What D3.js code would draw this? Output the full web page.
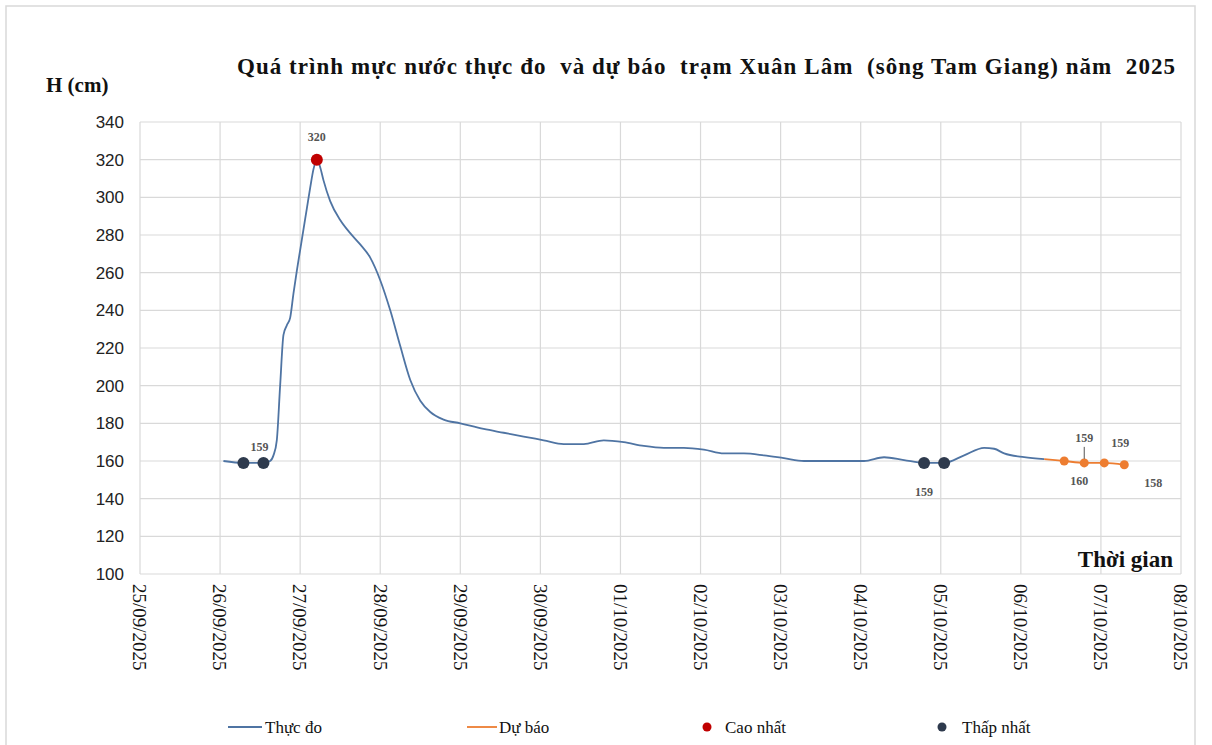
<!DOCTYPE html>
<html>
<head>
<meta charset="utf-8">
<script src="https://cdn.jsdelivr.net/npm/d3@7"></script>
<style>
  body { margin: 0; background: #fff; }
  text { font-family: "Liberation Serif", "Times New Roman", serif; }
</style>
</head>
<body>
<div id="chart"></div>
<script>
// observed water level (Thực đo)
const obsTimes = [
  "2025-09-26T01:00", "2025-09-26T07:00", "2025-09-26T13:00", "2025-09-26T15:00", "2025-09-26T16:00",
  "2025-09-26T17:00", "2025-09-26T18:00", "2025-09-26T19:00", "2025-09-26T20:00", "2025-09-26T21:00",
  "2025-09-26T22:00", "2025-09-26T23:00", "2025-09-27T00:00", "2025-09-27T01:00", "2025-09-27T02:00",
  "2025-09-27T03:00", "2025-09-27T04:00", "2025-09-27T05:00", "2025-09-27T06:00", "2025-09-27T07:00",
  "2025-09-27T09:00", "2025-09-27T12:00", "2025-09-27T15:00", "2025-09-27T18:00", "2025-09-27T21:00",
  "2025-09-28T00:00", "2025-09-28T03:00", "2025-09-28T06:00", "2025-09-28T09:00", "2025-09-28T12:00",
  "2025-09-28T15:00", "2025-09-28T19:00", "2025-09-29T00:00", "2025-09-29T07:00", "2025-09-29T13:00",
  "2025-09-29T19:00", "2025-09-30T01:00", "2025-09-30T07:00", "2025-09-30T13:00", "2025-09-30T19:00",
  "2025-10-01T01:00", "2025-10-01T07:00", "2025-10-01T13:00", "2025-10-01T19:00", "2025-10-02T01:00",
  "2025-10-02T07:00", "2025-10-02T13:00", "2025-10-02T19:00", "2025-10-03T01:00", "2025-10-03T07:00",
  "2025-10-03T13:00", "2025-10-03T19:00", "2025-10-04T01:00", "2025-10-04T07:00", "2025-10-04T13:00",
  "2025-10-04T19:00", "2025-10-05T01:00", "2025-10-05T07:00", "2025-10-05T13:00", "2025-10-05T16:00",
  "2025-10-05T19:00", "2025-10-06T01:00", "2025-10-06T07:00"
];
const obsValues = [
  160, 159, 159, 160, 163,
  171, 200, 227, 232, 236,
  249, 261, 272, 283, 294,
  305, 315, 320, 316, 309,
  298, 288, 281, 275, 268,
  256, 240, 221, 203, 192,
  186, 182, 180, 177, 175,
  173, 171, 169, 169, 171,
  170, 168, 167, 167, 166,
  164, 164, 163, 161.5, 160,
  160, 160, 160, 162, 160.5,
  159, 159, 163, 167, 166.5,
  164, 162, 161
];

// forecast (Dự báo)
const fcTimes = ["2025-10-06T07:00", "2025-10-06T13:00", "2025-10-06T19:00", "2025-10-07T01:00", "2025-10-07T07:00"];
const fcValues = [161, 160, 159, 159, 158];
const fcLabels = ["", "160", "159", "159", "158"];

// highest / lowest markers
const maxTimes = ["2025-09-27T05:00"];
const maxValues = [320];
const minTimes = ["2025-09-26T07:00", "2025-09-26T13:00", "2025-10-04T19:00", "2025-10-05T01:00"];
const minValues = [159, 159, 159, 159];
const minLabels = ["", "159", "159", ""];

const yTicks = [100, 120, 140, 160, 180, 200, 220, 240, 260, 280, 300, 320, 340];
const xStart = "2025-09-25T00:00", xEnd = "2025-10-08T00:00";

const titleText = "Quá trình mực nước thực đo  và dự báo  trạm Xuân Lâm  (sông Tam Giang) năm  2025";
const legendItems = ["Thực đo", "Dự báo", "Cao nhất", "Thấp nhất"];

function init() {
    let w = 1212;
    let h = 745;
    let left = 140, right = 1181, top = 122, bottom = 574;
    const serif = "'Liberation Serif', 'Times New Roman', serif";

    const parse = d3.timeParse("%Y-%m-%dT%H:%M");
    const fmt = d3.timeFormat("%d/%m/%Y");

    let svg = d3.select("#chart")
        .append("svg")
        .attr("width", w)
        .attr("height", h);

    // outer frame
    svg.append("rect")
        .attr("x", 6).attr("y", 6)
        .attr("width", 1189).attr("height", 745)
        .attr("fill", "none")
        .attr("stroke", "#d9d9d9")
        .attr("stroke-width", 1.5);

    let x = d3.scaleTime()
        .domain([parse(xStart), parse(xEnd)])
        .range([left, right]);
    let y = d3.scaleLinear()
        .domain([100, 340])
        .range([bottom, top]);

    const days = d3.timeDay.range(parse(xStart), d3.timeDay.offset(parse(xEnd), 1));

    // grid
    svg.append("g").selectAll("line")
        .data(yTicks)
        .enter()
        .append("line")
        .attr("x1", left).attr("x2", right)
        .attr("y1", d => y(d)).attr("y2", d => y(d))
        .attr("stroke", "#d9d9d9")
        .attr("stroke-width", 1.2);
    svg.append("g").selectAll("line")
        .data(days)
        .enter()
        .append("line")
        .attr("x1", d => x(d)).attr("x2", d => x(d))
        .attr("y1", top).attr("y2", bottom)
        .attr("stroke", "#d9d9d9")
        .attr("stroke-width", 1.2);

    // y labels
    svg.append("g").selectAll("text")
        .data(yTicks)
        .enter()
        .append("text")
        .attr("x", left - 16)
        .attr("y", d => y(d))
        .attr("dy", "0.35em")
        .attr("text-anchor", "end")
        .style("font-family", "'Liberation Sans Narrow', 'Liberation Sans', Arial, sans-serif")
        .style("font-size", "17px")
        .attr("fill", "#222")
        .text(d => d);

    // x labels, vertical
    svg.append("g").selectAll("text")
        .data(days)
        .enter()
        .append("text")
        .attr("transform", d => "translate(" + x(d) + "," + (bottom + 10) + ") rotate(90)")
        .attr("dy", "0.35em")
        .style("font-family", serif)
        .style("font-size", "19px")
        .attr("fill", "#111")
        .text(d => fmt(d));

    // titles
    svg.append("text")
        .attr("x", 237).attr("y", 74)
        .attr("textLength", 938)
        .attr("lengthAdjust", "spacing")
        .style("font-family", serif)
        .style("font-size", "23px")
        .style("font-weight", "bold")
        .style("white-space", "pre")
        .attr("fill", "#111")
        .text(titleText);
    svg.append("text")
        .attr("x", 46).attr("y", 92)
        .style("font-family", serif)
        .style("font-size", "21px")
        .style("font-weight", "bold")
        .attr("fill", "#111")
        .text("H (cm)");
    svg.append("text")
        .attr("x", 1173).attr("y", 567)
        .attr("text-anchor", "end")
        .style("font-family", serif)
        .style("font-size", "23px")
        .style("font-weight", "bold")
        .attr("fill", "#111")
        .text("Thời gian");

    // lines
    const obs = obsTimes.map((t, i) => ({ t: parse(t), v: obsValues[i] }));
    const fc = fcTimes.map((t, i) => ({ t: parse(t), v: fcValues[i], lab: fcLabels[i] }));
    let line = d3.line()
        .x(d => x(d.t))
        .y(d => y(d.v))
        .curve(d3.curveMonotoneX);

    svg.append("path")
        .attr("d", line(obs))
        .attr("fill", "none")
        .attr("stroke", "#4f74a3")
        .attr("stroke-width", 1.8);
    svg.append("path")
        .attr("d", line(fc))
        .attr("fill", "none")
        .attr("stroke", "#ed7d31")
        .attr("stroke-width", 1.8);

    svg.append("g").selectAll("circle")
        .data(fc.slice(1))
        .enter()
        .append("circle")
        .attr("cx", d => x(d.t))
        .attr("cy", d => y(d.v))
        .attr("r", 4.5)
        .attr("fill", "#ed7d31");

    // min / max markers
    const mins = minTimes.map((t, i) => ({ t: parse(t), v: minValues[i], lab: minLabels[i] }));
    const maxs = maxTimes.map((t, i) => ({ t: parse(t), v: maxValues[i] }));
    svg.append("g").selectAll("circle")
        .data(mins)
        .enter()
        .append("circle")
        .attr("cx", d => x(d.t))
        .attr("cy", d => y(d.v))
        .attr("r", 6)
        .attr("fill", "#2e3a4d");
    svg.append("g").selectAll("circle")
        .data(maxs)
        .enter()
        .append("circle")
        .attr("cx", d => x(d.t))
        .attr("cy", d => y(d.v))
        .attr("r", 6)
        .attr("fill", "#c00000");

    // data labels
    const labStyle = sel => sel
        .style("font-family", serif)
        .style("font-size", "12px")
        .style("font-weight", "bold")
        .attr("fill", "#555")
        .attr("text-anchor", "middle");

    svg.append("text")
        .attr("x", x(maxs[0].t)).attr("y", y(maxs[0].v) - 19)
        .call(labStyle)
        .text(maxs[0].v);

    const minOff = [null, [-4, -12], [0, 33], null];
    mins.forEach((d, i) => {
        if (!d.lab) return;
        svg.append("text")
            .attr("x", x(d.t) + minOff[i][0]).attr("y", y(d.v) + minOff[i][1])
            .call(labStyle)
            .text(d.lab);
    });

    const fcOff = [null, [15, 24], [0, -21], [16, -16], [29, 22]];
    fc.forEach((d, i) => {
        if (!d.lab) return;
        svg.append("text")
            .attr("x", x(d.t) + fcOff[i][0]).attr("y", y(d.v) + fcOff[i][1])
            .call(labStyle)
            .text(d.lab);
    });
    // leader line for the 2nd forecast label
    svg.append("line")
        .attr("x1", x(fc[2].t)).attr("x2", x(fc[2].t))
        .attr("y1", y(fc[2].v) - 16).attr("y2", y(fc[2].v) - 4)
        .attr("stroke", "#555")
        .attr("stroke-width", 1);

    // legend
    const legX = [228, 467, 707, 942];
    const ly = 727;
    const lg = svg.append("g");
    lg.append("line").attr("x1", legX[0]).attr("x2", legX[0] + 34).attr("y1", ly).attr("y2", ly)
        .attr("stroke", "#4f74a3").attr("stroke-width", 1.8);
    lg.append("line").attr("x1", legX[1]).attr("x2", legX[1] + 30).attr("y1", ly).attr("y2", ly)
        .attr("stroke", "#ed7d31").attr("stroke-width", 1.8);
    lg.append("circle").attr("cx", legX[2]).attr("cy", ly).attr("r", 4.5).attr("fill", "#c00000");
    lg.append("circle").attr("cx", legX[3]).attr("cy", ly).attr("r", 4.5).attr("fill", "#2e3a4d");
    const legTextX = [legX[0] + 37, legX[1] + 32, legX[2] + 18, legX[3] + 20];
    lg.selectAll("text")
        .data(legendItems)
        .enter()
        .append("text")
        .attr("x", (d, i) => legTextX[i])
        .attr("y", ly)
        .attr("dy", "0.35em")
        .style("font-family", serif)
        .style("font-size", "17px")
        .attr("fill", "#111")
        .text(d => d);
}

window.onload = init;
</script>
</body>
</html>
